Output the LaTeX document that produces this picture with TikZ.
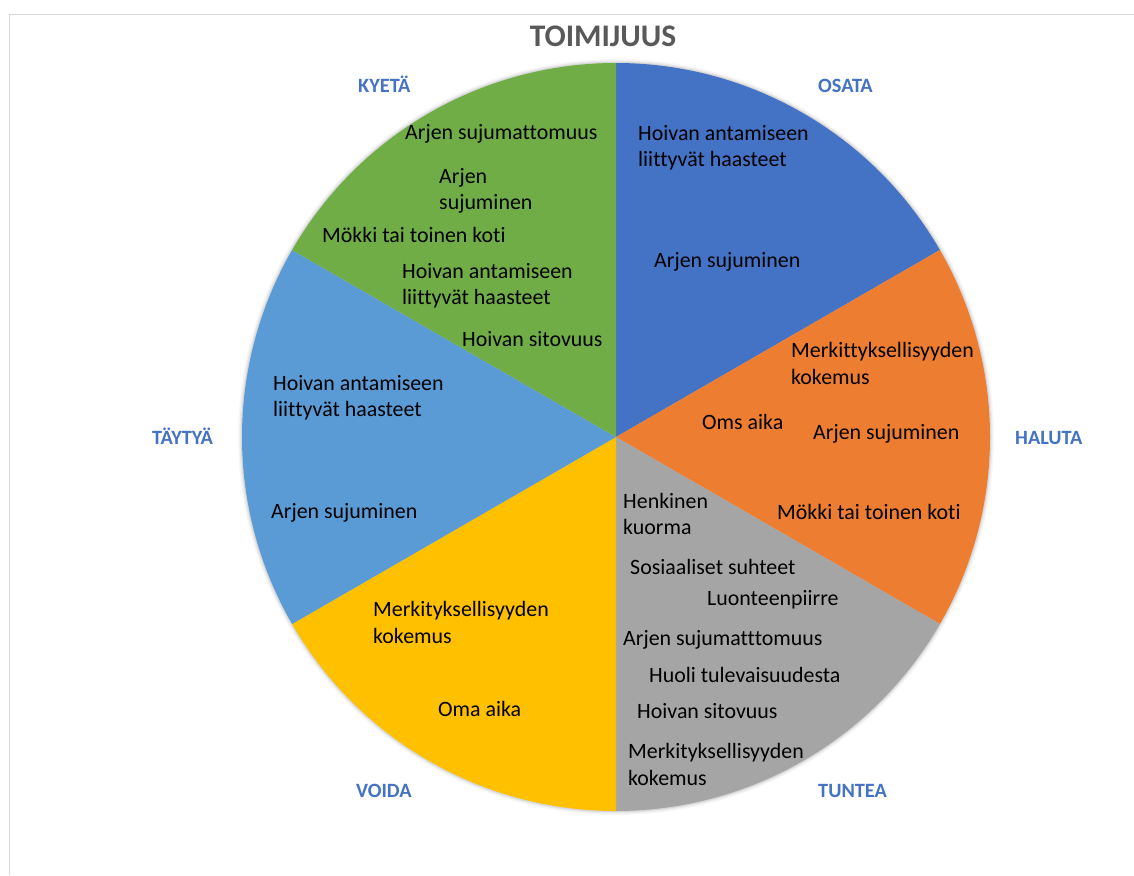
\documentclass[tikz,border=0pt]{standalone}
\usepackage{fontspec}
\setmainfont[Ligatures=NoCommon]{Carlito}
\definecolor{cBlue}{HTML}{4472C4}
\definecolor{cOrange}{HTML}{ED7D31}
\definecolor{cGrey}{HTML}{A5A5A5}
\definecolor{cGold}{HTML}{FFC000}
\definecolor{cLight}{HTML}{5B9BD5}
\definecolor{cGreen}{HTML}{70AD47}
\definecolor{cTitle}{HTML}{595959}
\definecolor{cFrame}{HTML}{D9D9D9}
\tikzset{
  lbl/.style={anchor=base west, inner sep=0pt, text=black, font=\fontsize{21.9}{26.5}\selectfont},
  cat/.style={anchor=base west, inner sep=0pt, text=cBlue, font=\fontsize{20.3}{24}\selectfont\bfseries},
  ttl/.style={anchor=base, inner sep=0pt, text=cTitle, font=\fontsize{31.4}{36}\selectfont\bfseries},
  frameline/.style={draw=cFrame, line width=1.5pt}
}
\begin{document}
\begin{tikzpicture}[x=1pt, y=-1pt]
\useasboundingbox (0,0) rectangle (1134,875);
\fill[white] (0,0) rectangle (1134,875);
\draw[frameline] (9.5,875) -- (9.5,14.5) -- (1134,14.5);
% pie
\begin{scope}[shift={(616,437)}, yscale=-1]
  \fill[black, opacity=0.03] (0,0) circle[radius=378];
  \fill[black, opacity=0.05] (0,0) circle[radius=376.5];
  \fill[black, opacity=0.08] (0,0) circle[radius=375.2];
  \fill[cBlue]   (0,0) -- (90:374)  arc[start angle=90,  end angle=30,   radius=374] -- cycle;
  \fill[cOrange] (0,0) -- (30:374)  arc[start angle=30,  end angle=-30,  radius=374] -- cycle;
  \fill[cGrey]   (0,0) -- (-30:374) arc[start angle=-30, end angle=-90,  radius=374] -- cycle;
  \fill[cGold]   (0,0) -- (-90:374) arc[start angle=-90, end angle=-150, radius=374] -- cycle;
  \fill[cLight]  (0,0) -- (210:374) arc[start angle=210, end angle=150,  radius=374] -- cycle;
  \fill[cGreen]  (0,0) -- (150:374) arc[start angle=150, end angle=90,   radius=374] -- cycle;
\end{scope}
% title
\node[ttl] (title) at (603,47) {TOIMIJUUS};
% category labels
\node[cat] (osata)  at (818,92.5)  {OSATA};
\node[cat] (kyeta)  at (358,92.5)  {KYETÄ};
\node[cat] (taytya) at (152,444.5) {TÄYTYÄ};
\node[cat] (haluta) at (1015,444.5) {HALUTA};
\node[cat] (voida)  at (356,797)   {VOIDA};
\node[cat] (tuntea) at (818,797)   {TUNTEA};
% KYETÄ (green)
\node[lbl] (g1)  at (405,139) {Arjen sujumattomuus};
\node[lbl] (g2a) at (439,183) {Arjen};
\node[lbl] (g2b) at (439,209) {sujuminen};
\node[lbl] (g3)  at (322,242) {Mökki tai toinen koti};
\node[lbl] (g4a) at (402,278) {Hoivan antamiseen};
\node[lbl] (g4b) at (402,304) {liittyvät haasteet};
\node[lbl] (g5)  at (462,346) {Hoivan sitovuus};
% OSATA (blue)
\node[lbl] (b1a) at (638,140) {Hoivan antamiseen};
\node[lbl] (b1b) at (638,166) {liittyvät haasteet};
\node[lbl] (b2)  at (654,267) {Arjen sujuminen};
% HALUTA (orange)
\node[lbl] (o1a) at (791,357) {Merkittyksellisyyden};
\node[lbl] (o1b) at (791,384) {kokemus};
\node[lbl] (o2)  at (702,429) {Oms aika};
\node[lbl] (o3)  at (813,439) {Arjen sujuminen};
\node[lbl] (o4)  at (777,519) {Mökki tai toinen koti};
% TUNTEA (grey)
\node[lbl] (t1a) at (623,508) {Henkinen};
\node[lbl] (t1b) at (623,534) {kuorma};
\node[lbl] (t2)  at (630,574) {Sosiaaliset suhteet};
\node[lbl] (t3)  at (707,605) {Luonteenpiirre};
\node[lbl] (t4)  at (623,645) {Arjen sujumatttomuus};
\node[lbl] (t5)  at (649,682) {Huoli tulevaisuudesta};
\node[lbl] (t6)  at (637,718) {Hoivan sitovuus};
\node[lbl] (t7a) at (628,758) {Merkityksellisyyden};
\node[lbl] (t7b) at (628,785) {kokemus};
% TÄYTYÄ (light blue)
\node[lbl] (l1a) at (273,390) {Hoivan antamiseen};
\node[lbl] (l1b) at (273,416) {liittyvät haasteet};
\node[lbl] (l2)  at (271,518) {Arjen sujuminen};
% VOIDA (gold)
\node[lbl] (y1a) at (373,616) {Merkityksellisyyden};
\node[lbl] (y1b) at (373,643) {kokemus};
\node[lbl] (y2)  at (438,716) {Oma aika};
\end{tikzpicture}
\end{document}
